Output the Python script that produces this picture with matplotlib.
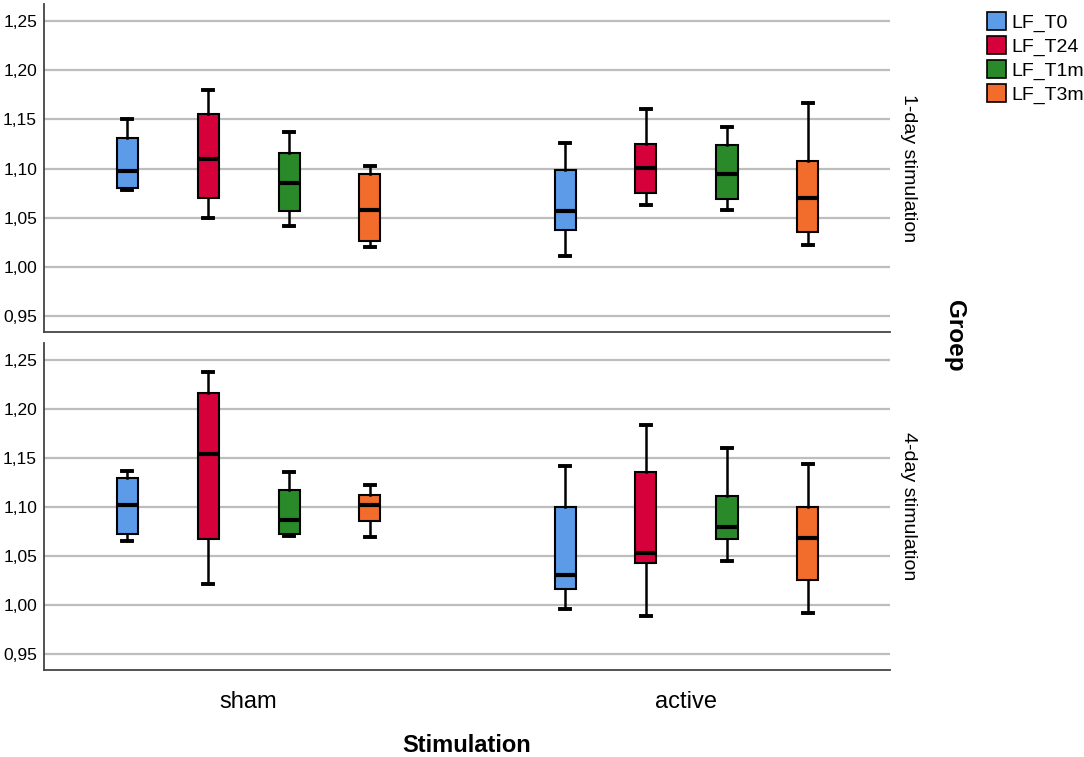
import matplotlib.pyplot as plt
from matplotlib.patches import Patch

plt.rcParams['font.family'] = ['Liberation Sans', 'DejaVu Sans']

series = ['LF_T0', 'LF_T24', 'LF_T1m', 'LF_T3m']
colors = ['#5B9BE8', '#D6003A', '#2A8A2A', '#F26C2C']
groups = ['sham', 'active']
panels = ['1-day stimulation', '4-day stimulation']
yticks = [0.95, 1.00, 1.05, 1.10, 1.15, 1.20, 1.25]

# each box: (whisker low, q1, median, q3, whisker high)
day1_sham = [
    (1.078, 1.080, 1.097, 1.131, 1.150),
    (1.050, 1.070, 1.110, 1.155, 1.180),
    (1.042, 1.057, 1.085, 1.116, 1.137),
    (1.020, 1.026, 1.058, 1.094, 1.103),
]
day1_active = [
    (1.011, 1.038, 1.057, 1.098, 1.126),
    (1.063, 1.075, 1.101, 1.125, 1.160),
    (1.058, 1.069, 1.094, 1.124, 1.142),
    (1.022, 1.036, 1.070, 1.108, 1.166),
]
day4_sham = [
    (1.065, 1.073, 1.102, 1.130, 1.137),
    (1.022, 1.067, 1.154, 1.216, 1.237),
    (1.070, 1.073, 1.087, 1.117, 1.136),
    (1.069, 1.086, 1.102, 1.112, 1.122),
]
day4_active = [
    (0.996, 1.016, 1.031, 1.100, 1.142),
    (0.989, 1.043, 1.053, 1.136, 1.184),
    (1.045, 1.067, 1.080, 1.111, 1.160),
    (0.992, 1.026, 1.068, 1.100, 1.144),
]
data = [[day1_sham, day1_active], [day4_sham, day4_active]]

offsets = [-0.277, -0.0925, 0.0925, 0.277]
box_w = 0.048

fig = plt.figure(figsize=(10.84, 7.57), dpi=100)
ax_top = fig.add_axes([0.0406, 0.5614, 0.7804, 0.4333])
ax_bot = fig.add_axes([0.0406, 0.1149, 0.7804, 0.4320])

for ax, pdata, label in zip([ax_top, ax_bot], data, panels):
    for gi, gdata in enumerate(pdata):
        for si, vals in enumerate(gdata):
            lo, q1, med, q3, hi = vals
            st = [dict(whislo=lo, q1=q1, med=med, q3=q3, whishi=hi, fliers=[])]
            ax.bxp(st, positions=[gi + offsets[si]], widths=box_w,
                   capwidths=box_w * 0.5, patch_artist=True, showfliers=False,
                   boxprops=dict(facecolor=colors[si], edgecolor='black', linewidth=1.5),
                   medianprops=dict(color='black', linewidth=3, solid_capstyle='butt'),
                   whiskerprops=dict(color='black', linewidth=1.8),
                   capprops=dict(color='black', linewidth=2.8),
                   manage_ticks=False, zorder=3)
    ax.set_xlim(-0.467, 1.4646)
    ax.set_ylim(0.934, 1.267)
    ax.set_yticks(yticks)
    ax.set_yticklabels([f'{v:.2f}'.replace('.', ',') for v in yticks], fontsize=12.5)
    ax.tick_params(axis='y', length=0, pad=5)
    ax.grid(axis='y', color='#BDBDBD', linewidth=1.6, zorder=0)
    ax.set_axisbelow(True)
    for s in ['top', 'right']:
        ax.spines[s].set_visible(False)
    for s in ['left', 'bottom']:
        ax.spines[s].set_color('#444444')
        ax.spines[s].set_linewidth(1.3)
    ax.text(1.0 + 19 / 846, 0.5, label, transform=ax.transAxes, rotation=-90,
            ha='center', va='center', fontsize=14)

ax_top.set_xticks([])
ax_bot.set_xticks([0, 1])
ax_bot.set_xticklabels(groups, fontsize=17)
ax_bot.tick_params(axis='x', length=0, pad=15)

fig.text(467 / 1084, 1 - 745 / 757, 'Stimulation', ha='center', va='center',
         fontsize=17, fontweight='bold')
fig.text(954 / 1084, 1 - 336 / 757, 'Groep', ha='center', va='center',
         rotation=-90, fontsize=17.5, fontweight='bold')

handles = [Patch(facecolor=c, edgecolor='black', linewidth=1.2) for c in colors]
fig.legend(handles, series, loc='upper left', bbox_to_anchor=(975 / 1084, 1.0),
           frameon=False, fontsize=14, handlelength=1.0, handleheight=1.1,
           handletextpad=0.25, labelspacing=0.2, borderaxespad=0.2)

fig.savefig('out.png', dpi=100)
